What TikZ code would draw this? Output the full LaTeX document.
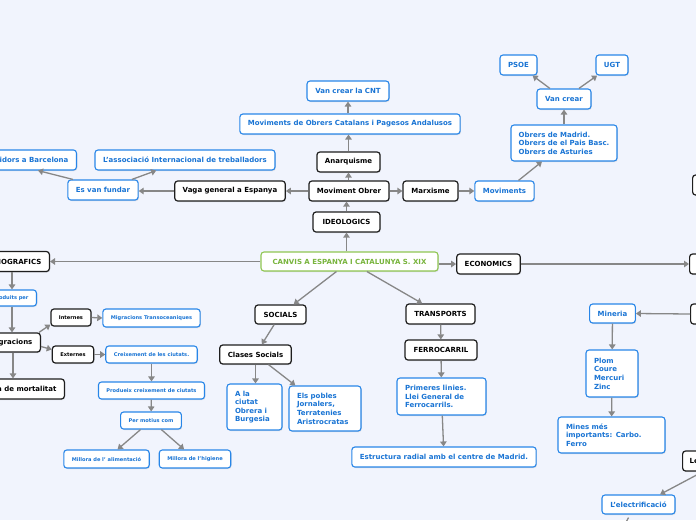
\documentclass[tikz,border=0pt]{standalone}
\usepackage{fontspec}
\setmainfont{DejaVu Sans}
\usetikzlibrary{arrows.meta,shadows}
\definecolor{bgc}{RGB}{241,244,253}
\definecolor{bkc}{RGB}{30,30,30}
\definecolor{blc}{RGB}{40,134,232}
\definecolor{blt}{RGB}{25,116,212}
\definecolor{grc}{RGB}{143,198,82}
\definecolor{grt}{RGB}{120,180,60}
\definecolor{arc}{RGB}{135,135,135}
\tikzset{
  box/.style={rounded corners=3pt, fill=white, font=\bfseries\fontsize{7}{8.6}\selectfont,
    inner xsep=8pt, inner ysep=2pt, minimum height=20pt,
    drop shadow={shadow xshift=0.8pt, shadow yshift=-1pt, opacity=0.22}},
  bk/.style={box, draw=bkc, line width=1.2pt, text=black},
  bl/.style={box, draw=blc, line width=1.1pt, text=blt},
  gr/.style={box, draw=grc, line width=1.1pt, text=grt},
  sm/.style={font=\bfseries\fontsize{5.1}{6}\selectfont, minimum height=17pt},
  ml/.style={align=left, text width=#1},
  arr/.style={draw=arc, line width=1.3pt, -{Triangle[width=6.5pt,length=5pt]}},
  pl/.style={draw=arc, line width=1.3pt},
}
\begin{document}
\begin{tikzpicture}[x=1pt,y=-1pt]
\useasboundingbox (0,0) rectangle (696,520);
\clip (0,0) rectangle (696,520);
\fill[bgc] (0,0) rectangle (696,520);

% centre
\node[gr, minimum width=177pt, minimum height=19pt] (c) at (349.5,261.5) {CANVIS A ESPANYA I CATALUNYA S. XIX};

% ideologics branch
\node[bk, minimum width=67pt] (ideo) at (346.5,222) {IDEOLOGICS};
\node[bk, minimum width=80pt] (mo) at (349,191) {Moviment Obrer};
\node[bk, minimum width=63pt] (anar) at (348.5,162) {Anarquisme};
\node[bl, minimum width=218pt] (movcat) at (350,124) {Moviments de Obrers Catalans i Pagesos Andalusos};
\node[bl, minimum width=82pt] (cnt) at (348,91) {Van crear la CNT};
\node[bk, minimum width=55pt] (marx) at (430.5,191) {Marxisme};
\node[bl, minimum width=59pt] (movs) at (504.5,191) {Moviments};
\node[bl, minimum width=106pt, minimum height=36pt, align=left, inner xsep=7pt] (obrers) at (564,143) {Obrers de Madrid.\\Obrers de el Pais Basc.\\Obrers de Asturies};
\node[bl, minimum width=54pt] (vancrear) at (564,99) {Van crear};
\node[bl, minimum width=37pt] (psoe) at (518.5,65) {PSOE};
\node[bl, minimum width=32pt] (ugt) at (612,65) {UGT};
\node[bk, minimum width=110pt] (vaga) at (230,191) {Vaga general a Espanya};
\node[bl, minimum width=70pt] (esvan) at (103,190) {Es van fundar};
\node[bl, minimum width=180pt] (assoc) at (185,160) {L'associació Internacional de treballadors};
\node[bl, anchor=east] (barc) at (77,160) {teixidors a Barcelona};

% economics
\node[bk, minimum width=63pt] (eco) at (488.5,264) {ECONOMICS};
\node[bk, minimum width=50pt, anchor=west] (r1) at (692,185) {};
\node[bk, minimum width=50pt, anchor=west] (r2) at (689,264) {};
\node[bk, minimum width=50pt, anchor=west] (r3) at (690,314) {};
\node[bl, minimum width=45pt, minimum height=19pt] (min) at (612.5,313.5) {Mineria};
\node[bl, minimum width=52pt, minimum height=47pt, ml=36pt] (plom) at (612,373.5) {Plom\\Coure\\Mercuri\\Zinc};
\node[bl, minimum width=107pt, minimum height=36pt, ml=91pt] (mines) at (611.5,435) {Mines més\\importants: Carbo.\\Ferro};
\node[bk, anchor=west, inner xsep=7pt, ml=40pt] (le) at (682,461) {Le};
\node[bl, minimum width=73pt, minimum height=19pt] (elec) at (638.5,504.5) {L'electrificació};
\coordinate (elecout) at (622,530);

% demografics
\node[bk, anchor=east] (demo) at (50,261.5) {DEMOGRAFICS};
\node[bl, sm, anchor=east, minimum height=16pt] (prod) at (37,298) {Produits per};
\node[bk, anchor=east, minimum height=19pt] (mig) at (41,342.5) {Migracions};
\node[bk, anchor=east] (mort) at (65,389) {Taxa de mortalitat};
\node[bk, sm, minimum width=40pt] (int) at (71,317.5) {Internes};
\node[bk, sm, minimum width=40pt] (ext) at (73,354.5) {Externes};
\node[bl, sm, minimum width=95pt, minimum height=18pt] (mtrans) at (151.5,318) {Migracions Transoceaniques};
\node[bl, sm, minimum width=89pt] (creix) at (151.5,354.5) {Creixement de les ciutats.};
\node[bl, sm, minimum width=103pt] (produeix) at (151.5,390.5) {Produeix creixement de ciutats};
\node[bl, sm, minimum width=60pt] (permot) at (151,420.5) {Per motius com};
\node[bl, sm, minimum width=83pt, minimum height=18pt] (alim) at (106.5,459) {Millora de l' alimentació};
\node[bl, sm, minimum width=70pt, minimum height=18pt] (hig) at (195,459) {Millora de l'higiene};

% socials
\node[bk, minimum width=51pt, minimum height=19pt] (soc) at (280.5,314.5) {SOCIALS};
\node[bk, minimum width=71pt, minimum height=19pt] (clases) at (255.5,354.5) {Clases Socials};
\node[bl, minimum width=55pt, minimum height=46pt, ml=39pt] (aciutat) at (254.5,407) {A la\\ciutat\\Obrera i\\Burgesia};
\node[bl, minimum width=72pt, minimum height=45pt, ml=56pt] (pobles) at (325,408.5) {Els pobles\\Jornalers,\\Terratenies\\Aristrocratas};

% transports
\node[bk, minimum width=69pt] (trans) at (440.5,314) {TRANSPORTS};
\node[bk, minimum width=72pt] (ferro) at (441,350) {FERROCARRIL};
\node[bl, minimum width=89pt, minimum height=37pt, ml=73pt] (prim) at (441.5,396.5) {Primeres linies.\\Llei General de\\Ferrocarrils.};
\node[bl, minimum width=182pt] (estr) at (444,457) {Estructura radial amb el centre de Madrid.};

% connectors
\draw[arr] (c.west) -- (demo.east);
\draw[arr] (c.north -| ideo.south) -- (ideo.south);
\draw[arr] (ideo.north) -- (ideo.north |- mo.south);
\draw[arr] (mo.north -| anar.south) -- (anar.south);
\draw[arr] (anar.north) -- (anar.north |- movcat.south);
\draw[arr] (movcat.north -| cnt.south) -- (cnt.south);
\draw[arr] (mo.west) -- (vaga.east);
\draw[arr] (mo.east) -- (marx.west);
\draw[arr] (marx.east) -- (movs.west);
\draw[arr] ([xshift=14pt]movs.north) -- ([xshift=-22pt]obrers.south);
\draw[arr] (obrers.north) -- (vancrear.south);
\draw[arr] (vancrear) -- (psoe);
\draw[arr] (vancrear) -- (ugt);
\draw[arr] (vaga.west) -- (vaga.west -| esvan.east);
\draw[arr] (esvan) -- (assoc);
\draw[arr] ([xshift=-30pt]esvan.north) -- ([xshift=-39pt]barc.south east);

\draw[arr] (eco.west -| c.east) -- (eco.west);
\draw[arr] (eco.east) -- (eco.east -| r2.west);
\draw[arr] (r3.west) -- (min.east);
\draw[arr] (min) -- (plom);
\draw[arr] (plom) -- (mines);
\draw[arr] ([xshift=21pt]le.south west) -- ([xshift=21.5pt]elec.north);
\draw[pl] ([xshift=-10pt,yshift=-3pt]elec.south) -- (elecout);

\draw[arr] ([xshift=-38pt]demo.south east) -- ([xshift=-25pt]prod.north east);
\draw[arr] ([xshift=-25pt]prod.south east) -- ([xshift=-29pt]mig.north east);
\draw[arr] ([xshift=-2pt]mig.north east) -- ([yshift=2pt]int.south west);
\draw[arr] ([yshift=-4pt]mig.east) -- ([yshift=5pt]ext.west);
\draw[arr] ([xshift=-28pt]mig.south east) -- ([xshift=-52pt]mort.north east);
\draw[arr] (int.east) -- (mtrans.west);
\draw[arr] (ext.east) -- (creix.west);
\draw[arr] (creix) -- (produeix);
\draw[arr] (produeix) -- (permot);
\draw[arr] (permot) -- (alim);
\draw[arr] (permot) -- (hig);

\draw[arr] (c) -- (soc);
\draw[arr] (soc) -- (clases);
\draw[arr] (clases.south) -- (clases.south |- aciutat.north);
\draw[arr] (clases) -- (pobles);

\draw[arr] (c) -- (trans);
\draw[arr] (trans) -- (ferro);
\draw[arr] (ferro) -- (prim);
\draw[arr] (prim) -- (estr);
\end{tikzpicture}
\end{document}
